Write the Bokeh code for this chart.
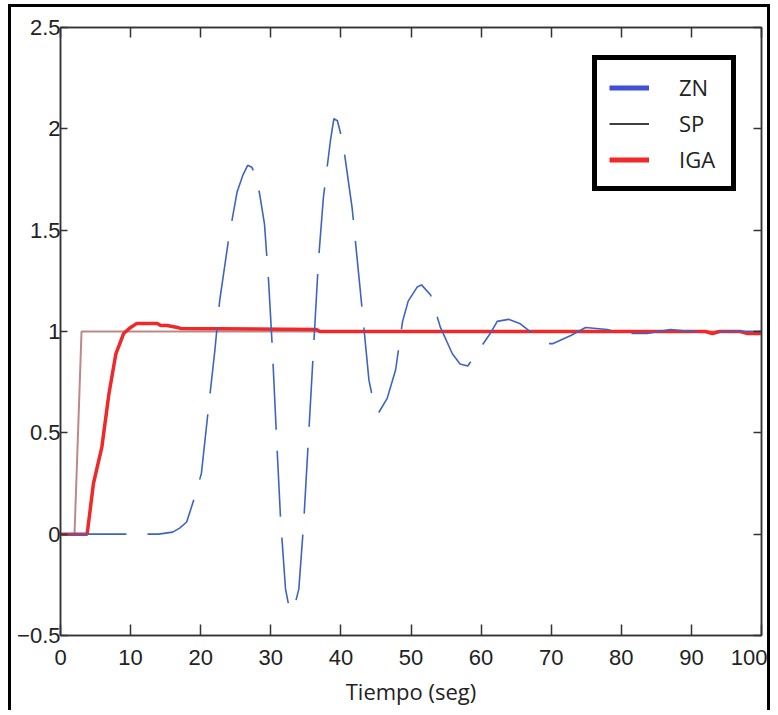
from bokeh.plotting import figure
from bokeh.models import LinearAxis, FixedTicker, Range1d, Legend, LegendItem
from bokeh.embed import file_html
from bokeh.resources import INLINE

# ---- data ----
zn_t = [0, 14, 16, 17, 18, 19.3, 20.1, 21.1, 22, 22.7, 24, 25.2, 26, 26.7, 27.3,
        27.8, 28.4, 29.1, 29.7, 30.2, 30.8, 31.4, 32.1, 32.6, 33.1, 33.5, 34.0,
        34.7, 35.4, 36.1, 36.8, 37.5, 38.5, 39.0, 39.5, 40.3, 41.6, 42.8, 44.0,
        44.6, 45.4, 46.6, 47.8, 48.8, 49.6, 50.9, 51.5, 52.8, 54.2, 55.9, 57,
        58.1, 59.5, 61.3, 62.3, 63.9, 65.5, 66.6, 68, 69.2, 70.2, 72.8, 74.9,
        78.0, 79.9, 83.7, 87.0, 90, 92.7, 95, 100]
zn_y = [0, 0, 0.01, 0.03, 0.06, 0.2, 0.3, 0.62, 0.9, 1.15, 1.46, 1.69, 1.77,
        1.82, 1.81, 1.77, 1.68, 1.53, 1.24, 0.93, 0.49, 0.07, -0.27, -0.36,
        -0.38, -0.34, -0.27, 0.06, 0.49, 0.92, 1.35, 1.66, 1.94, 2.05, 2.04,
        1.93, 1.61, 1.19, 0.76, 0.66, 0.60, 0.67, 0.81, 1.05, 1.15, 1.22, 1.23,
        1.18, 1.02, 0.89, 0.84, 0.83, 0.90, 0.99, 1.05, 1.06, 1.04, 1.01, 0.97,
        0.94, 0.94, 0.98, 1.02, 1.01, 0.99, 0.99, 1.01, 1.0, 0.99, 1.0, 1.0]

sp_t = [0, 2, 3, 100]
sp_y = [0, 0, 1, 1]

iga_t = [0, 3.8, 4.7, 5.9, 6.9, 7.9, 9.0, 10.0, 10.9, 13.8, 14.3, 15.2, 16.7,
         17.1, 36.5, 37.0, 60, 80, 92, 93, 94, 97, 98, 100]
iga_y = [0, 0, 0.25, 0.43, 0.69, 0.89, 0.99, 1.02, 1.04, 1.04, 1.03, 1.03, 1.02,
         1.015, 1.01, 1.0, 1.0, 1.0, 1.0, 0.99, 1.0, 1.0, 0.99, 0.99]

x_ticks = [0, 10, 20, 30, 40, 50, 60, 70, 80, 90, 100]
y_ticks = [-0.5, 0, 0.5, 1, 1.5, 2, 2.5]
series_labels = ["ZN", "SP", "IGA"]
x_title = "Tiempo (seg)"

AX = "#333333"
TICK_FONT = "Liberation Sans"
NAN = float("nan")

p = figure(width=762, height=706,
           x_range=Range1d(0, 100), y_range=Range1d(-0.5, 2.5),
           output_backend="svg", toolbar_location=None,
           min_border_left=49, min_border_right=12,
           min_border_top=20, min_border_bottom=78,
           background_fill_color=None, border_fill_color="white")
p.styles = {"margin-left": "8px", "margin-top": "4px",
            "border-left": "3px solid black", "border-top": "3px solid black",
            "border-right": "3px solid black"}
p.grid.visible = False
p.outline_line_color = AX
p.outline_line_width = 1.5

def style_axis(ax, tick_in, show_labels):
    ax.axis_line_color = AX
    ax.axis_line_width = 1.5
    ax.major_tick_line_color = AX
    ax.major_tick_line_width = 1.5
    ax.major_tick_in = tick_in
    ax.major_tick_out = 0
    ax.minor_tick_in = 0
    ax.minor_tick_out = 0
    if show_labels:
        ax.major_label_text_font = TICK_FONT
        ax.major_label_text_font_size = "22px"
        ax.major_label_text_color = "#222222"
    else:
        ax.major_label_text_font_size = "0px"
        ax.major_label_standoff = 0
        ax.major_label_text_alpha = 0

xa = p.xaxis[0]
xa.ticker = FixedTicker(ticks=x_ticks)
style_axis(xa, 11, True)
xa.major_label_standoff = 14
xa.axis_label = x_title
xa.axis_label_text_font = "Open Sans"
xa.axis_label_text_font_style = "normal"
xa.axis_label_text_font_size = "22px"
xa.axis_label_text_color = "#222222"
xa.axis_label_standoff = 8

ya = p.yaxis[0]
ya.ticker = FixedTicker(ticks=y_ticks)
style_axis(ya, 7, True)
ya.major_label_standoff = 0

top = LinearAxis(ticker=FixedTicker(ticks=x_ticks))
style_axis(top, 10, False)
p.add_layout(top, "above")
right = LinearAxis(ticker=FixedTicker(ticks=y_ticks))
style_axis(right, 8, False)
p.add_layout(right, "right")

# ---- data lines ----
p.line(sp_t, sp_y, line_color="#a86060", line_width=2, line_alpha=0.75)
p.line(iga_t, iga_y, line_color="#f02828", line_width=3.5)
p.line(zn_t, zn_y, line_color="#3f63c0", line_width=1.6, line_dash="66 21")

# ---- legend swatches (styled as in the reference) ----
leg_zn = p.line(x=[NAN], y=[NAN], line_color="#3f4fd6", line_width=5)
leg_sp = p.line(x=[NAN], y=[NAN], line_color="#404040", line_width=2)
leg_iga = p.line(x=[NAN], y=[NAN], line_color="#f02828", line_width=5)
legend = Legend(items=[LegendItem(label=series_labels[0], renderers=[leg_zn]),
                       LegendItem(label=series_labels[1], renderers=[leg_sp]),
                       LegendItem(label=series_labels[2], renderers=[leg_iga])],
                location=(532, 444), margin=0,
                border_line_color="black", border_line_width=5,
                border_line_alpha=1,
                padding=12, spacing=6, glyph_width=40, glyph_height=29,
                label_height=29, label_width=40, label_standoff=30,
                label_text_font="Open Sans", label_text_font_size="22px",
                label_text_color="#222222", background_fill_color="white",
                background_fill_alpha=1)
p.add_layout(legend)

open("out.html", "w").write(file_html(p, INLINE))
